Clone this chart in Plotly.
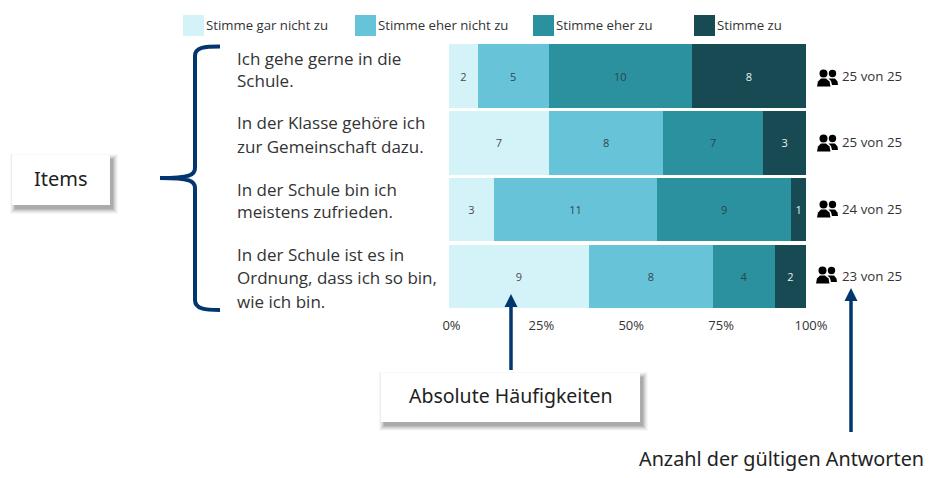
import plotly.graph_objects as go

W, H = 929, 478
items = ["Ich gehe gerne in die Schule.", "In der Klasse gehöre ich zur Gemeinschaft dazu.",
         "In der Schule bin ich meistens zufrieden.", "In der Schule ist es in Ordnung, dass ich so bin, wie ich bin."]
item_lines = [["Ich gehe gerne in die", "Schule."],
              ["In der Klasse gehöre ich", "zur Gemeinschaft dazu."],
              ["In der Schule bin ich", "meistens zufrieden."],
              ["In der Schule ist es in", "Ordnung, dass ich so bin,", "wie ich bin."]]
item_line_y = [[58, 81], [123, 146], [189, 212], [254, 277, 301]]
series_names = ["Stimme gar nicht zu", "Stimme eher nicht zu", "Stimme eher zu", "Stimme zu"]
gar_nicht = [2, 7, 3, 9]
eher_nicht = [5, 8, 11, 8]
eher_zu = [10, 7, 9, 4]
zu = [8, 3, 1, 2]
valid = [25, 25, 24, 23]
total = [25, 25, 25, 25]
colors = ["#D4F3F9", "#67C3D7", "#2C919F", "#174A52"]
text_colors = ["#4a4a4a", "#34474d", "#2a444a", "#e8f0f2"]
tick_vals = [0, 25, 50, 75, 100]
tick_text = ["0%", "25%", "50%", "75%", "100%"]
legend_x = [183, 355, 533, 694]
icon_pos = [(817, 69.5), (817, 134.5), (817, 200.5), (816, 266.5)]
count_y = [76, 142, 209, 276]
NAVY = "#03366E"
FONT = "Open Sans"
BOXFONT = "Noto Sans"

X = lambda p: p / W
Y = lambda p: 1 - p / H

fig = go.Figure()
for name, vals, col, tc in zip(series_names, [gar_nicht, eher_nicht, eher_zu, zu], colors, text_colors):
    fig.add_trace(go.Bar(y=items, x=vals, name=name, orientation="h", marker=dict(color=col, line_width=0),
                         text=vals, textposition="inside", insidetextanchor="middle", constraintext="none",
                         textangle=0, textfont=dict(family=FONT, size=11, color=tc), showlegend=False))
# carrier for the percentage axis
fig.add_trace(go.Scatter(x=tick_vals, y=[items[0]] * 5, xaxis="x2", mode="markers",
                         marker=dict(opacity=0), showlegend=False, hoverinfo="skip"))

shapes, ann = [], []

def text(x, y, s, size, anchor="left", color="#333333", family=FONT):
    ann.append(dict(x=X(x), y=Y(y), xref="paper", yref="paper", text=s, showarrow=False, xanchor=anchor,
                    yanchor="middle", align=anchor, font=dict(family=family, size=size, color=color),
                    borderpad=0, borderwidth=0))

def rect(x0, y0, x1, y1, fill, opacity=1.0):
    shapes.append(dict(type="rect", xref="paper", yref="paper", x0=X(x0), x1=X(x1), y0=Y(y0), y1=Y(y1),
                       fillcolor=fill, opacity=opacity, line_width=0, layer="above"))

def path(d_points, **kw):
    d = ""
    for cmd, *pts in d_points:
        d += cmd + " ".join(f"{X(pts[i]):.5f},{Y(pts[i + 1]):.5f}" for i in range(0, len(pts), 2))
    shapes.append(dict(type="path", xref="paper", yref="paper", path=d, layer="above", **kw))

def shadow_box(x0, y0, x1, y1, dx=3, dy=4):
    for g, op in zip([5, 4, 3, 2, 1, 0], [.04, .06, .08, .10, .12, .14]):
        rect(x0 + dx - g, y0 + dy - g, x1 + dx + g, y1 + dy + g, "#404040", op)
    rect(x0, y0, x1, y1, "#FFFFFF")

# legend
for lx, name, col in zip(legend_x, series_names, colors):
    rect(lx, 15, lx + 21, 36, col)
    text(lx + 23, 24.5, name, 13.2)

# item labels
for lines, ys in zip(item_lines, item_line_y):
    for ln, ly in zip(lines, ys):
        text(237, ly, ln, 17)

# response counts and icons
for (ix, iy), cy, v, t in zip(icon_pos, count_y, valid, total):
    text(842, cy, f"{v} von {t}", 13.3)
    for cx, r in [(ix + 6.5, 4), (ix + 15.5, 3.7)]:
        shapes.append(dict(type="circle", xref="paper", yref="paper", x0=X(cx - r), x1=X(cx + r), y0=Y(iy + 4 - r),
                           y1=Y(iy + 4 + r), fillcolor="#000000", line_width=0, layer="above"))
    path([("M", ix, iy + 17), ("L", ix + 1, iy + 12), ("L", ix + 4, iy + 9), ("L", ix + 9, iy + 9),
          ("L", ix + 12.5, iy + 12), ("L", ix + 13.5, iy + 17), ("Z",)], fillcolor="#000000", line_width=0)
    path([("M", ix + 11.5, iy + 9), ("L", ix + 18, iy + 9), ("L", ix + 20.5, iy + 12), ("L", ix + 21, iy + 15.5),
          ("L", ix + 15, iy + 15.5), ("L", ix + 14, iy + 11.5), ("Z",)], fillcolor="#000000", line_width=0)

# brace
path([("M", 220, 46.5), ("C", 205, 46.5, 195, 47, 195, 56), ("L", 195, 168), ("C", 195, 175, 190, 178, 160, 178),
      ("C", 190, 178, 195, 181, 195, 188), ("L", 195, 300), ("C", 195, 309, 205, 310, 220, 310)],
     line=dict(color=NAVY, width=4))

# arrows
for ax, tip, end in [(511, 294, 370), (851, 288, 432)]:
    shapes.append(dict(type="line", xref="paper", yref="paper", x0=X(ax), x1=X(ax), y0=Y(tip + 8), y1=Y(end),
                       line=dict(color=NAVY, width=3.5), layer="above"))
    path([("M", ax, tip), ("L", ax + 6.5, tip + 13), ("L", ax - 6.5, tip + 13), ("Z",)], fillcolor=NAVY, line_width=0)

# callout boxes
shadow_box(12, 155, 110, 205)
text(61, 178, "Items", 20, "center", "#222222", BOXFONT)
shadow_box(381, 373, 640, 422)
text(510, 395, "Absolute Häufigkeiten", 19.5, "center", "#222222", BOXFONT)
rect(625, 436, 929, 478, "#FFFFFF")
text(781, 458, "Anzahl der gültigen Antworten", 19.8, "center", "#222222", BOXFONT)

fig.update_layout(
    width=W, height=H, margin=dict(l=0, r=0, t=0, b=0, autoexpand=False), paper_bgcolor="white",
    plot_bgcolor="rgba(0,0,0,0)",
    barmode="stack", barnorm="percent", bargap=0.05, showlegend=False, shapes=shapes, annotations=ann,
    xaxis=dict(domain=[X(449), X(806)], range=[0, 100], visible=False, fixedrange=True),
    xaxis2=dict(domain=[X(451.5), X(811)], range=[0, 100], anchor="y", side="bottom", tickvals=tick_vals,
                ticktext=tick_text, showgrid=False, zeroline=False, showline=False, ticks="outside", ticklen=3,
                tickcolor="rgba(0,0,0,0)", tickfont=dict(family=FONT, size=13, color="#333333")),
    yaxis=dict(domain=[Y(310), Y(42.6)], categoryorder="array", categoryarray=items[::-1], visible=False,
               range=[-0.5, 3.5]),
)
fig.write_html("out.html", post_script="document.body.style.margin='0';",
               config=dict(displayModeBar=False))
